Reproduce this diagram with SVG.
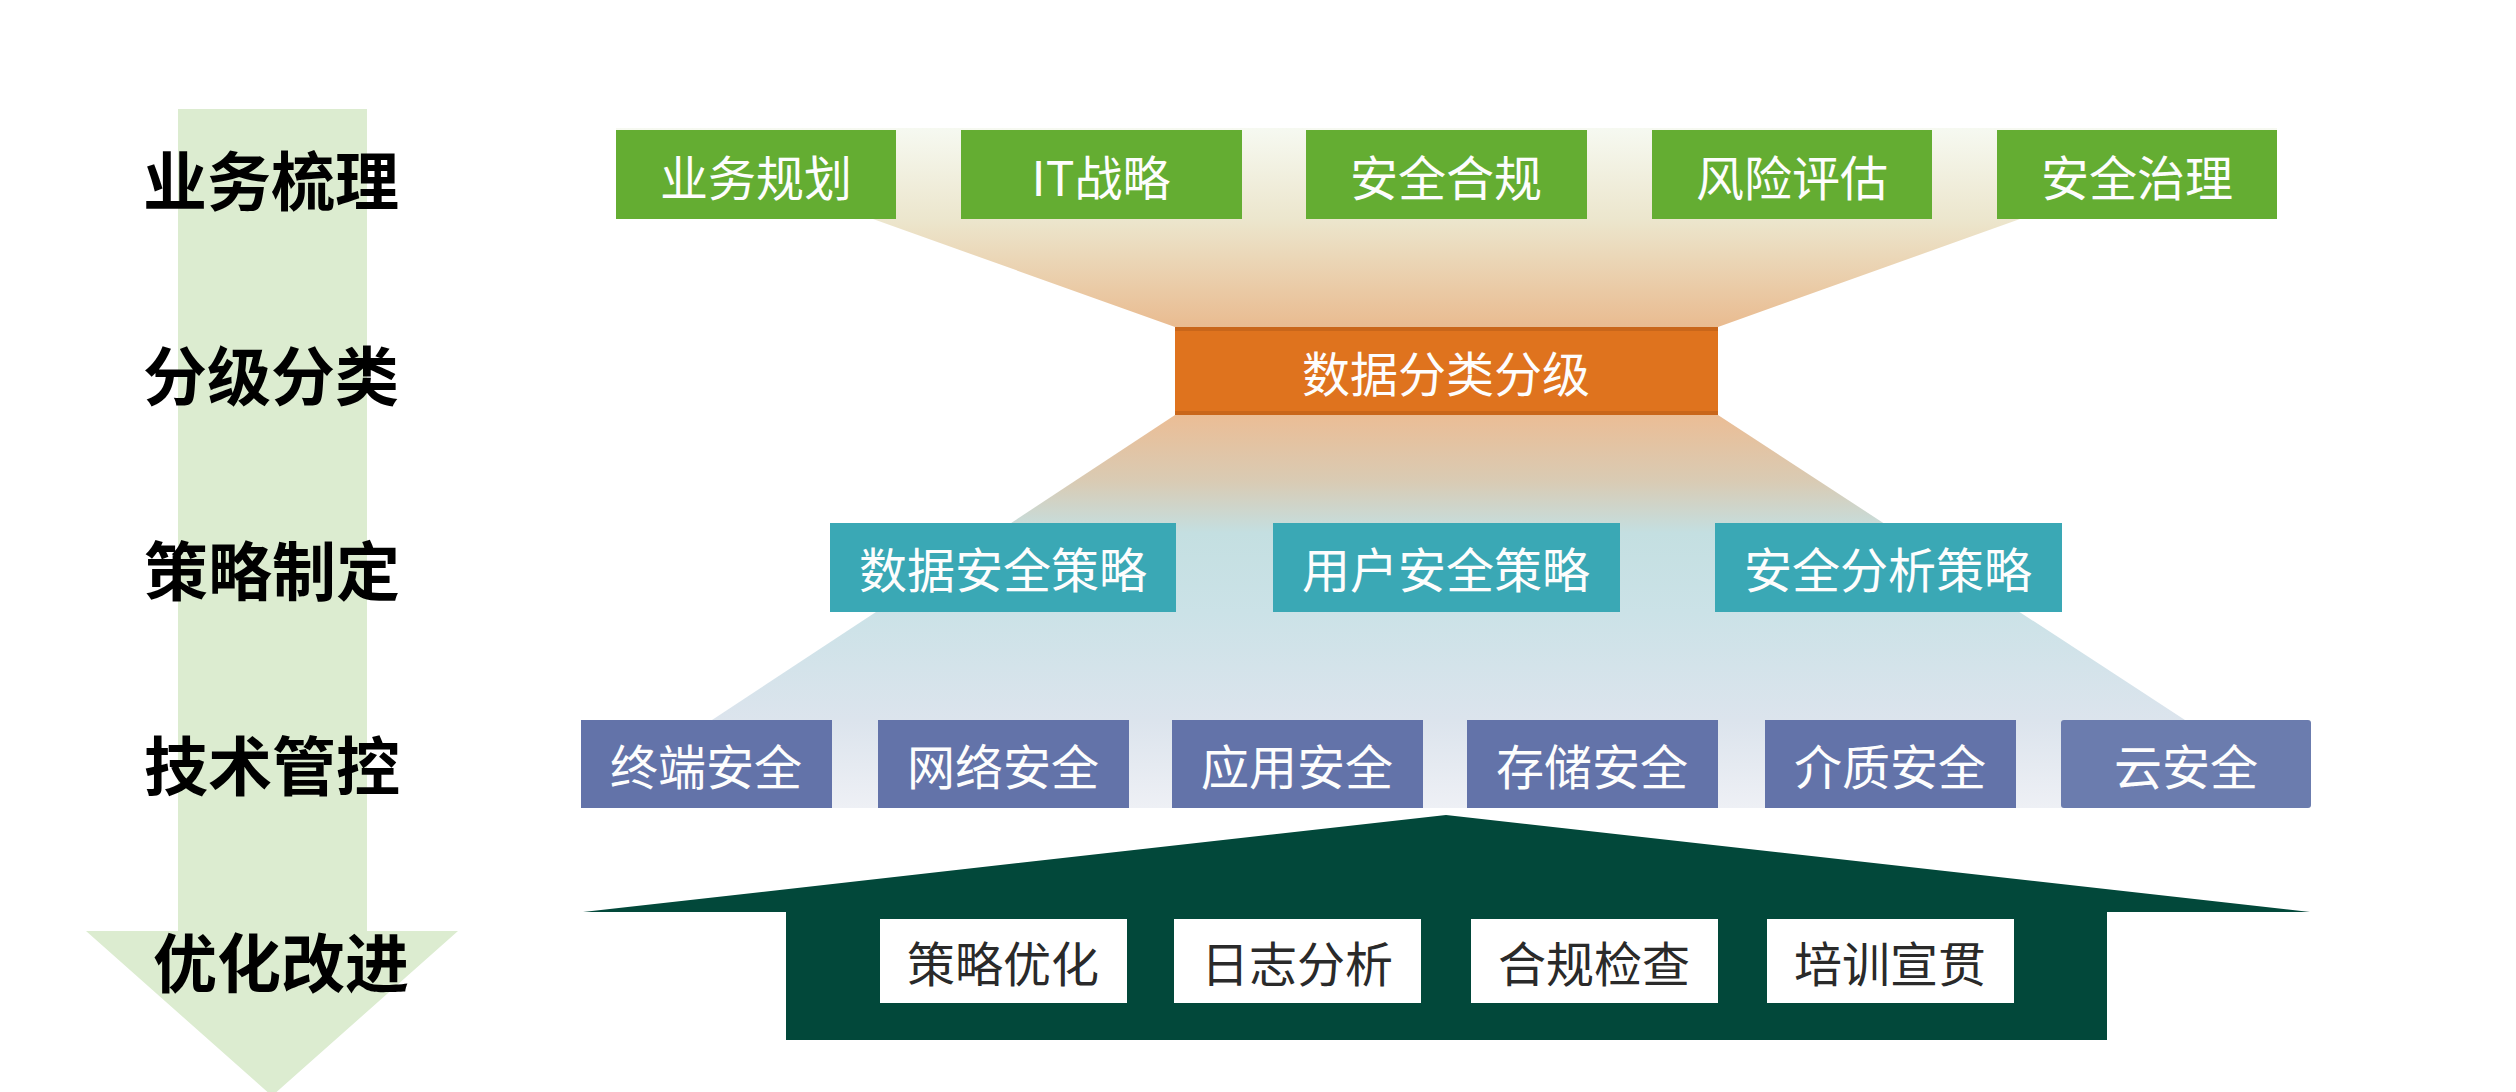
<svg xmlns="http://www.w3.org/2000/svg" width="2516" height="1092" viewBox="0 0 2516 1092">
  <defs>
    <linearGradient id="gFunnel1" gradientUnits="userSpaceOnUse" x1="0" y1="128" x2="0" y2="327">
      <stop offset="0" stop-color="#f6f9f1"/>
      <stop offset="0.46" stop-color="#ece6cd"/>
      <stop offset="1" stop-color="#e9bb90"/>
    </linearGradient>
    <linearGradient id="gFunnel2" gradientUnits="userSpaceOnUse" x1="0" y1="415" x2="0" y2="808">
      <stop offset="0" stop-color="#ebbd95"/>
      <stop offset="0.17" stop-color="#d9cbb4"/>
      <stop offset="0.3" stop-color="#c4dfe1"/>
      <stop offset="0.5" stop-color="#cbe2e7"/>
      <stop offset="0.78" stop-color="#dce4ed"/>
      <stop offset="1" stop-color="#eef0f5"/>
    </linearGradient>
    <style>
      .lbl { font-family: "Noto Sans CJK SC", "Noto Sans", sans-serif; font-size: 64px; font-weight: 700; fill: #000; text-anchor: middle; dominant-baseline: central; }
      .bt { font-family: "Noto Sans CJK SC", "Noto Sans", sans-serif; font-size: 48px; font-weight: 400; fill: #fdfdfd; text-anchor: middle; dominant-baseline: central; }
      .wt { font-family: "Noto Sans CJK SC", "Noto Sans", sans-serif; font-size: 48px; font-weight: 400; fill: #2a2a2a; text-anchor: middle; dominant-baseline: central; }
      .green { fill: #64ad32; }
      .orange { fill: #df731e; }
      .teal { fill: #3aa8b5; }
      .blue { fill: #6373a9; }
      .white { fill: #ffffff; }
      .house { fill: #02483a; }
    </style>
  </defs>

  <rect x="0" y="0" width="2516" height="1092" fill="#ffffff"/>

  <!-- left process arrow -->
  <g id="process-arrow">
    <polygon points="178,109 367,109 367,931 458,931 272,1096 86,931 178,931" fill="#dcecd0"/>
    <text class="lbl" x="271" y="177">业务梳理</text>
    <text class="lbl" x="271" y="372">分级分类</text>
    <text class="lbl" x="272" y="567">策略制定</text>
    <text class="lbl" x="272" y="762">技术管控</text>
    <text class="lbl" x="281" y="959">优化改进</text>
  </g>

  <!-- funnels linking the layers -->
  <g id="connectors">
    <polygon points="616,128 2277,128 2277,219 2020,219 1718,327 1175,327 873,219 616,219" fill="url(#gFunnel1)"/>
    <polygon points="1175,415 1718,415 2185,720 2185,808 712,808 712,720" fill="url(#gFunnel2)"/>
  </g>

  <!-- layer 1: business -->
  <g id="node-yewuguihua"><rect class="green" x="616" y="130" width="280" height="89"/><text class="bt" x="756" y="175">业务规划</text></g>
  <g id="node-itzhanlue"><rect class="green" x="961" y="130" width="281" height="89"/><text class="bt" x="1101" y="175">IT战略</text></g>
  <g id="node-anquanhegui"><rect class="green" x="1306" y="130" width="281" height="89"/><text class="bt" x="1446" y="175">安全合规</text></g>
  <g id="node-fengxianpinggu"><rect class="green" x="1652" y="130" width="280" height="89"/><text class="bt" x="1792" y="175">风险评估</text></g>
  <g id="node-anquanzhili"><rect class="green" x="1997" y="130" width="280" height="89"/><text class="bt" x="2137" y="175">安全治理</text></g>

  <!-- layer 2: classification -->
  <g id="node-fenleifenji">
    <rect class="orange" x="1175" y="327" width="543" height="88"/>
    <rect x="1175" y="327" width="543" height="4" fill="#c9661a"/>
    <rect x="1175" y="411" width="543" height="4" fill="#c9661a"/>
    <text class="bt" x="1446" y="371">数据分类分级</text>
  </g>

  <!-- layer 3: policies -->
  <g id="node-shujucelue"><rect class="teal" x="830" y="523" width="346" height="89"/><text class="bt" x="1003" y="567">数据安全策略</text></g>
  <g id="node-yonghucelue"><rect class="teal" x="1273" y="523" width="347" height="89"/><text class="bt" x="1446" y="567">用户安全策略</text></g>
  <g id="node-fenxicelue"><rect class="teal" x="1715" y="523" width="347" height="89"/><text class="bt" x="1888" y="567">安全分析策略</text></g>

  <!-- layer 4: technical controls -->
  <g id="node-zhongduan"><rect class="blue" x="581" y="720" width="251" height="88"/><text class="bt" x="706" y="764">终端安全</text></g>
  <g id="node-wangluo"><rect class="blue" x="878" y="720" width="251" height="88"/><text class="bt" x="1003" y="764">网络安全</text></g>
  <g id="node-yingyong"><rect class="blue" x="1172" y="720" width="251" height="88"/><text class="bt" x="1297" y="764">应用安全</text></g>
  <g id="node-cunchu"><rect class="blue" x="1467" y="720" width="251" height="88"/><text class="bt" x="1592" y="764">存储安全</text></g>
  <g id="node-jiezhi"><rect class="blue" x="1765" y="720" width="251" height="88"/><text class="bt" x="1890" y="764">介质安全</text></g>
  <g id="node-yun"><rect x="2061" y="720" width="250" height="88" fill="#6b7cae" rx="3"/><text class="bt" x="2186" y="764">云安全</text></g>

  <!-- layer 5: optimisation house -->
  <g id="node-house">
    <polygon class="house" points="583,912 1446,815 2310,912 2107,912 2107,1040 786,1040 786,912"/>
  </g>
  <g id="node-celueyouhua"><rect class="white" x="880" y="919" width="247" height="84"/><text class="wt" x="1003" y="961">策略优化</text></g>
  <g id="node-rizhifenxi"><rect class="white" x="1174" y="919" width="247" height="84"/><text class="wt" x="1297" y="961">日志分析</text></g>
  <g id="node-heguijiancha"><rect class="white" x="1471" y="919" width="247" height="84"/><text class="wt" x="1594" y="961">合规检查</text></g>
  <g id="node-peixunxuanguan"><rect class="white" x="1767" y="919" width="247" height="84"/><text class="wt" x="1890" y="961">培训宣贯</text></g>
</svg>
